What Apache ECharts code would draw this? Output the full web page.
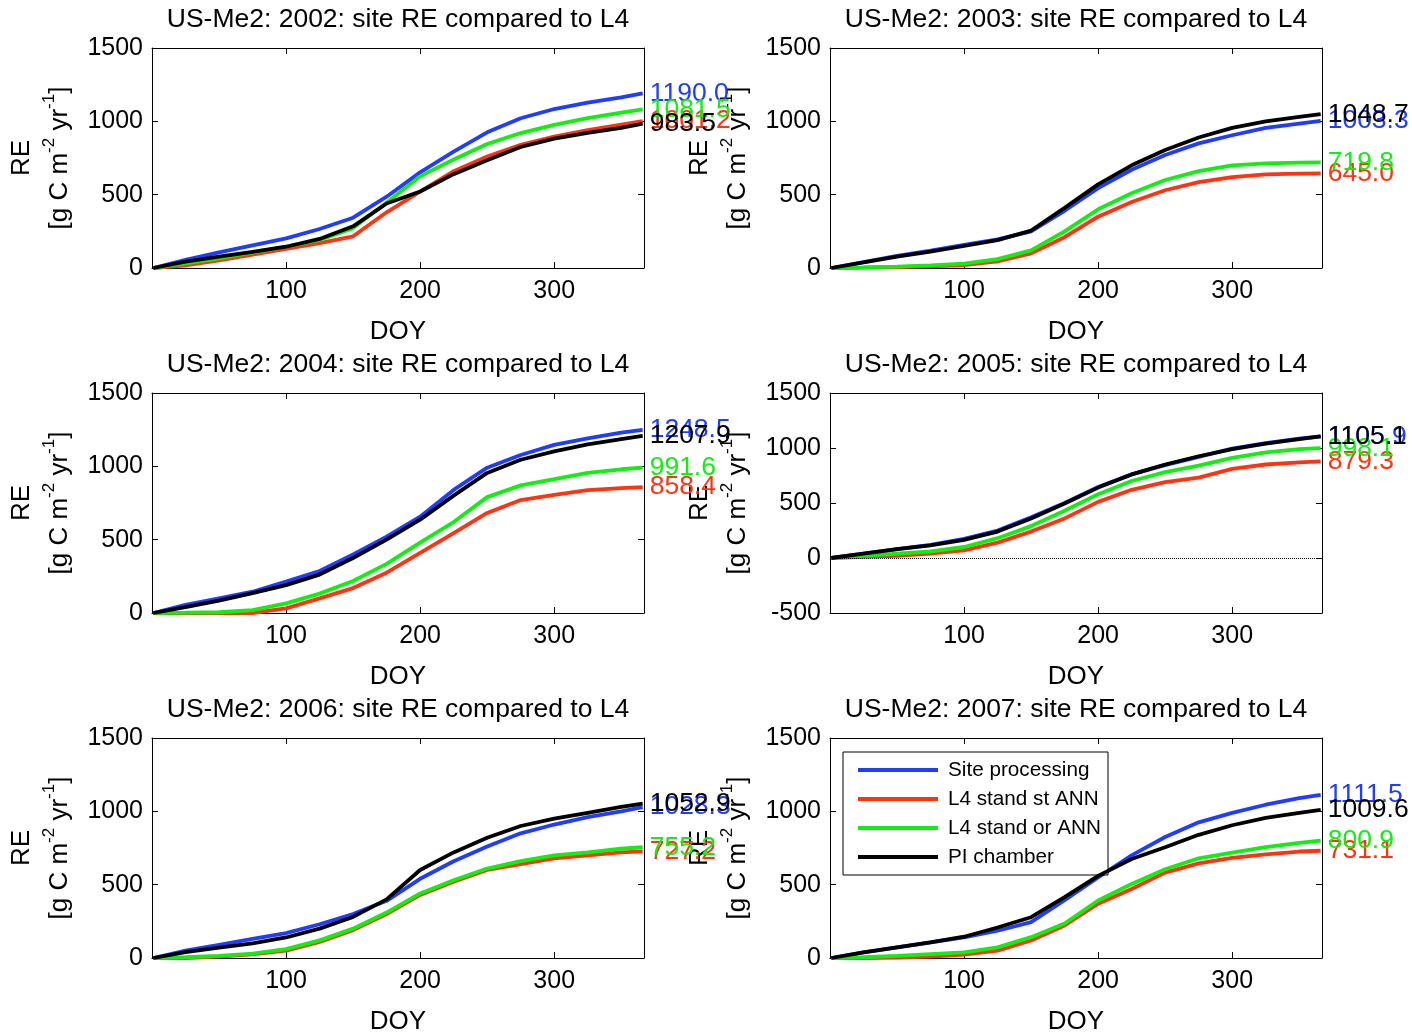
<!DOCTYPE html>
<html>
<head>
<meta charset="utf-8">
<title>US-Me2 site RE compared to L4</title>
<script src="https://cdn.jsdelivr.net/npm/echarts@6/dist/echarts.min.js"></script>
<style>
  html, body { margin: 0; background: #fff; }
  #chart { width: 1412px; height: 1036px; }
</style>
</head>
<body>
<div id="chart"></div>
<script>
  var doy = [1, 25, 50, 75, 100, 125, 150, 175, 200, 225, 250, 275, 300, 325, 350, 366];
  var years = ['2002', '2003', '2004', '2005', '2006', '2007'];
  var seriesNames = ['Site processing', 'L4 stand st ANN', 'L4 stand or ANN', 'PI chamber'];
  var xTicks = [100, 200, 300];

  // cumulative RE, g C m-2 yr-1
  var site2002 = [0, 55, 107, 155, 202, 266, 343, 486, 652, 793, 925, 1021, 1084, 1127, 1164, 1190.0];
  var st2002   = [0, 18, 52, 92, 130, 170, 216, 380, 520, 660, 760, 840, 896, 940, 978, 1001.2];
  var or2002   = [0, 32, 66, 105, 145, 191, 272, 445, 625, 740, 845, 920, 976, 1022, 1060, 1081.5];
  var pi2002   = [0, 43, 77, 110, 145, 198, 284, 440, 522, 640, 735, 825, 882, 922, 955, 983.5];

  var site2003 = [0, 40, 82, 118, 158, 195, 250, 390, 545, 670, 770, 850, 905, 955, 985, 1003.3];
  var st2003   = [0, 2, 6, 12, 20, 45, 100, 210, 350, 450, 530, 585, 620, 638, 644, 645.0];
  var or2003   = [0, 4, 10, 18, 30, 60, 120, 250, 400, 510, 600, 660, 700, 713, 718, 719.8];
  var pi2003   = [0, 38, 78, 112, 150, 190, 255, 410, 570, 700, 805, 890, 955, 1000, 1030, 1048.7];

  var site2004 = [0, 55, 100, 145, 214, 286, 400, 520, 657, 839, 991, 1077, 1146, 1191, 1230, 1248.5];
  var st2004   = [0, 0, 0, 0, 32, 100, 170, 275, 410, 545, 682, 770, 806, 838, 852, 858.4];
  var or2004   = [0, 2, 5, 20, 66, 132, 218, 335, 480, 620, 790, 870, 912, 955, 980, 991.6];
  var pi2004   = [0, 40, 85, 135, 190, 262, 375, 500, 636, 800, 955, 1045, 1102, 1150, 1186, 1207.9];

  var site2005 = [0, 40, 80, 120, 175, 250, 370, 500, 645, 760, 845, 920, 995, 1045, 1085, 1105.9];
  var st2005   = [0, 10, 20, 40, 70, 140, 240, 360, 510, 620, 690, 730, 810, 850, 870, 879.3];
  var or2005   = [0, 20, 40, 60, 100, 180, 290, 430, 580, 700, 780, 840, 910, 960, 990, 998.1];
  var pi2005   = [0, 40, 80, 115, 165, 240, 360, 495, 640, 760, 850, 925, 990, 1040, 1080, 1105.1];

  var site2006 = [0, 50, 90, 130, 170, 230, 300, 390, 540, 660, 760, 850, 910, 960, 1000, 1028.3];
  var st2006   = [0, 0, 10, 25, 50, 110, 190, 300, 430, 520, 600, 640, 680, 700, 720, 727.2];
  var or2006   = [0, 5, 15, 30, 60, 120, 200, 310, 440, 530, 610, 660, 700, 720, 745, 755.2];
  var pi2006   = [0, 40, 70, 100, 140, 200, 280, 400, 600, 720, 820, 900, 950, 990, 1030, 1052.9];

  var site2007 = [0, 38, 72, 106, 140, 186, 245, 395, 550, 700, 825, 925, 990, 1045, 1090, 1111.5];
  var st2007   = [0, 0, 3, 9, 23, 50, 120, 222, 370, 470, 582, 645, 683, 706, 726, 731.1];
  var or2007   = [0, 5, 15, 27, 38, 72, 142, 235, 392, 505, 605, 680, 718, 756, 785, 800.9];
  var pi2007   = [0, 38, 72, 106, 145, 208, 278, 415, 560, 675, 755, 840, 905, 955, 990, 1009.6];

  var yearData = {
    '2002': [site2002, st2002, or2002, pi2002],
    '2003': [site2003, st2003, or2003, pi2003],
    '2004': [site2004, st2004, or2004, pi2004],
    '2005': [site2005, st2005, or2005, pi2005],
    '2006': [site2006, st2006, or2006, pi2006],
    '2007': [site2007, st2007, or2007, pi2007]
  };
  var yMinByYear = { '2005': -500 };

  var colors = ['#1f3cff', '#ff3311', '#11ee11', '#000000'];
  var font = 'Liberation Sans, Arial, Helvetica, sans-serif';

  var chart = echarts.init(document.getElementById('chart'));

  var grids = [], xAxes = [], yAxes = [], titles = [], series = [];
  var lefts = [152, 830];
  var tops = [48, 393, 738];
  var W = 492, H = 220;

  years.forEach(function (yr, i) {
    var left = lefts[i % 2];
    var top = tops[Math.floor(i / 2)];
    var yMin = yMinByYear[yr] !== undefined ? yMinByYear[yr] : 0;

    grids.push({ left: left, top: top, width: W, height: H, containLabel: false });

    titles.push({
      text: 'US-Me2: ' + yr + ': site RE compared to L4',
      left: left + W / 2 - 5,
      top: top - 47,
      textAlign: 'center',
      textStyle: { fontFamily: font, fontSize: 26.5, fontWeight: 'normal', color: '#000' }
    });

    var tickStyle = { inside: true, length: 6, lineStyle: { color: '#000' } };
    var lineStyle = { show: true, onZero: false, lineStyle: { color: '#000', width: 1 } };

    xAxes.push({
      gridIndex: i, type: 'value', position: 'bottom', min: 0, max: 367, interval: 100,
      axisLine: lineStyle, axisTick: tickStyle, splitLine: { show: false },
      axisLabel: {
        color: '#000', fontFamily: font, fontSize: 25, margin: 11,
        formatter: function (v) { return xTicks.indexOf(v) >= 0 ? String(v) : ''; }
      },
      name: 'DOY', nameLocation: 'middle', nameGap: 51,
      nameTextStyle: { color: '#000', fontFamily: font, fontSize: 26 }
    });
    xAxes.push({
      gridIndex: i, type: 'value', position: 'top', min: 0, max: 367, interval: 100,
      axisLine: lineStyle, axisTick: tickStyle, axisLabel: { show: false }, splitLine: { show: false }
    });
    yAxes.push({
      gridIndex: i, type: 'value', position: 'left', min: yMin, max: 1500, interval: 500,
      axisLine: lineStyle, axisTick: tickStyle, splitLine: { show: false },
      axisLabel: {
        color: '#000', fontFamily: font, fontSize: 25, margin: 9,
        formatter: function (v) { return String(v); }
      },
      name: '{a|RE}\n{a|[g C m}{b|-2}{a| yr}{b|-1}{a|]}',
      nameLocation: 'middle', nameRotate: 90, nameGap: 73,
      nameTextStyle: {
        color: '#000',
        rich: {
          a: { fontFamily: font, fontSize: 26, lineHeight: 38, color: '#000' },
          b: { fontFamily: font, fontSize: 17, lineHeight: 22, verticalAlign: 'top', color: '#000' }
        }
      }
    });
    yAxes.push({
      gridIndex: i, type: 'value', position: 'right', min: yMin, max: 1500, interval: 500,
      axisLine: lineStyle, axisTick: tickStyle, axisLabel: { show: false }, splitLine: { show: false }
    });

    yearData[yr].forEach(function (vals, k) {
      var s = {
        name: seriesNames[k],
        type: 'line',
        xAxisIndex: 2 * i,
        yAxisIndex: 2 * i,
        data: doy.map(function (d, j) { return [d, vals[j]]; }),
        showSymbol: false,
        symbol: 'none',
        silent: true,
        animation: false,
        color: colors[k],
        lineStyle: { color: colors[k], width: 3.8 },
        endLabel: {
          show: true,
          distance: 7,
          color: colors[k],
          fontFamily: font,
          fontSize: 26.5,
          formatter: function (p) { return p.value[1].toFixed(1); }
        },
        z: 2 + k
      };
      if (yr === '2005' && k === 0) {
        s.markLine = {
          silent: true, symbol: 'none', animation: false,
          label: { show: false },
          lineStyle: { type: 'dotted', color: '#000', width: 1 },
          data: [{ yAxis: 0 }]
        };
      }
      series.push(s);
    });
  });

  chart.setOption({
    backgroundColor: '#fff',
    animation: false,
    title: titles,
    grid: grids,
    xAxis: xAxes,
    yAxis: yAxes,
    legend: {
      data: seriesNames,
      orient: 'vertical',
      left: 843,
      top: 752,
      padding: [7, 3, 7, 15],
      itemGap: 7,
      itemWidth: 80,
      itemHeight: 4,
      icon: 'rect',
      backgroundColor: '#fff',
      borderColor: '#000',
      borderWidth: 1,
      selectedMode: false,
      textStyle: {
        color: '#000', fontFamily: font, fontSize: 20.7, lineHeight: 22,
        width: 157, padding: [0, 0, 0, 5], overflow: 'truncate', ellipsis: ''
      }
    },
    series: series
  });
</script>
</body>
</html>
